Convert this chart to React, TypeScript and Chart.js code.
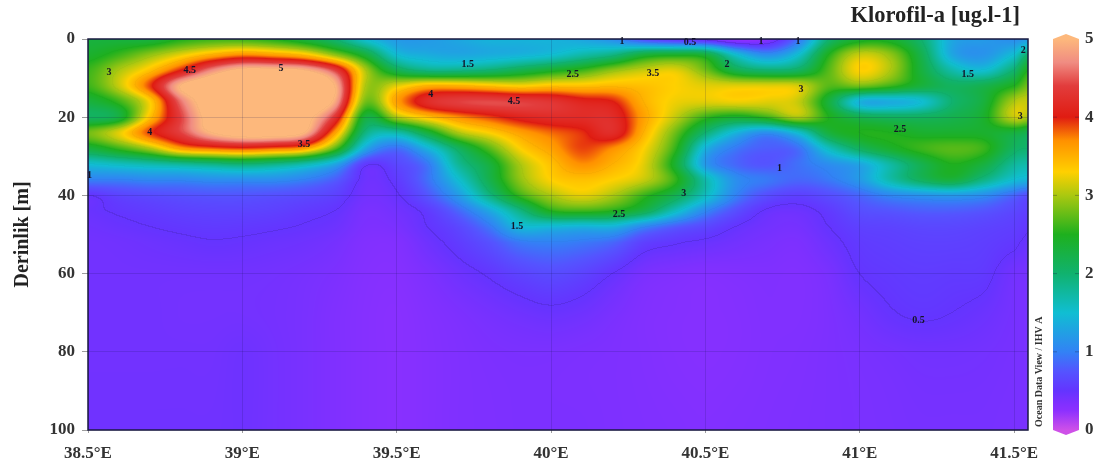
import React, { useEffect, useRef } from "react";
import { Chart, registerables } from "chart.js";

Chart.register(...registerables);

const SERIF = '"Liberation Serif", serif';
const longitudes = [38.5,38.6,38.7,38.8,38.9,39,39.1,39.2,39.3,39.4,39.5,39.6,39.7,39.8,39.9,40,40.1,40.2,40.3,40.4,40.5,40.6,40.7,40.8,40.9,41,41.1,41.2,41.3,41.4,41.5,41.545];
const depths = [0,4,8,12,16,20,24,28,32,36,40,44,48,52,60,70,80,100];

const d0 = [2.3,2.3,2.3,2.5,2.6,2.6,2.5,2.3,2.0,1.5,1.2,1.2,1.3,1.4,1.4,1.4,1.3,1.1,0.7,0.5,0.4,0.2,0.3,0.9,2.0,2.4,2.4,2.0,1.3,1.2,1.1,1.2];
const d4 = [2.4,2.6,2.9,3.2,3.5,3.7,3.6,3.4,2.9,2.3,1.5,1.35,1.3,1.35,1.4,1.5,1.7,1.9,2.3,2.4,2.3,1.5,1.1,1.5,2.5,3.1,2.9,2.2,1.3,1.15,1.5,2.0];
const d8 = [2.6,3.0,3.4,4.0,4.7,5.1,5.1,5.0,4.4,3.0,2.2,1.9,1.9,2.0,2.2,2.4,2.6,2.9,3.1,3.2,2.8,2.2,2.0,2.1,2.7,3.3,3.0,2.3,1.7,1.5,2.0,2.5];
const d12 = [2.6,3.1,3.9,5.0,5.4,5.6,5.6,5.5,5.0,3.0,3.2,3.5,3.5,3.4,3.3,3.4,3.4,3.45,3.4,3.3,3.2,3.2,3.2,3.15,2.7,2.8,2.6,2.3,2.1,2.2,2.5,2.8];
const d16 = [2.3,2.6,3.3,4.6,5.3,5.6,5.6,5.4,4.9,2.8,3.6,4.2,4.4,4.45,4.4,4.3,4.1,4.0,3.5,3.25,3.2,3.25,3.2,3.1,2.3,1.4,1.35,1.5,2.0,2.3,3.0,3.1];
const d20 = [2.1,2.3,3.4,4.4,5.2,5.5,5.5,5.2,4.3,2.3,3.0,3.4,3.7,3.9,4.1,4.2,4.2,4.2,3.6,3.1,2.6,2.4,2.6,3.0,2.5,2.2,2.1,2.1,2.2,2.4,3.1,3.0];
const d24 = [2.8,3.2,3.9,4.4,5.0,5.3,5.3,5.0,3.6,1.9,1.7,2.3,3.0,3.3,3.6,3.8,3.95,4.2,3.5,2.8,2.0,1.4,1.1,1.5,2.3,2.5,2.5,2.4,2.4,2.4,2.3,2.2];
const d28 = [2.3,2.6,3.0,3.6,3.8,3.9,3.8,3.6,2.7,1.3,0.9,1.4,2.1,2.7,3.3,3.6,3.9,3.7,3.3,2.6,1.4,0.95,0.8,0.9,1.6,2.1,2.4,2.6,2.7,2.6,2.1,2.0];
const d32 = [1.5,1.6,1.7,1.8,1.9,2.0,1.9,1.7,1.3,0.55,0.65,0.95,1.8,2.3,3.0,3.4,3.7,3.5,3.2,2.4,1.2,0.85,0.75,0.9,1.1,1.3,1.75,2.2,2.5,2.3,1.8,1.7];
const d36 = [1.0,1.0,1.05,1.05,1.1,1.1,1.1,1.0,0.8,0.45,0.55,0.9,1.5,2.2,2.9,3.3,3.4,3.3,3.1,2.6,1.7,1.1,0.95,0.85,0.95,1.2,1.7,2.1,2.3,1.9,1.5,1.4];
const d40 = [0.5,0.62,0.68,0.72,0.75,0.75,0.72,0.68,0.6,0.42,0.48,0.75,1.2,1.9,2.6,3.0,3.2,3.0,2.6,2.2,1.6,1.0,0.7,0.6,0.7,0.85,1.05,1.15,1.2,1.1,0.85,0.7];
const d44 = [0.47,0.52,0.56,0.6,0.62,0.62,0.6,0.55,0.5,0.38,0.42,0.55,0.85,1.3,1.9,2.5,2.6,2.5,2.2,1.6,1.05,0.7,0.48,0.45,0.55,0.7,0.75,0.8,0.8,0.75,0.65,0.58];
const d48 = [0.44,0.47,0.5,0.53,0.55,0.54,0.52,0.49,0.45,0.36,0.38,0.5,0.65,0.95,1.45,1.45,1.4,1.4,1.05,0.8,0.65,0.5,0.42,0.4,0.5,0.6,0.62,0.65,0.65,0.62,0.58,0.52];
const d52 = [0.42,0.43,0.45,0.47,0.49,0.48,0.46,0.44,0.4,0.33,0.33,0.44,0.56,0.72,0.95,1.0,0.95,0.85,0.6,0.52,0.47,0.42,0.38,0.36,0.45,0.55,0.58,0.6,0.6,0.58,0.53,0.47];
const d60 = [0.42,0.42,0.42,0.42,0.42,0.42,0.41,0.39,0.36,0.31,0.3,0.36,0.44,0.52,0.62,0.68,0.62,0.5,0.38,0.34,0.32,0.33,0.34,0.33,0.38,0.5,0.54,0.56,0.55,0.54,0.42,0.4];
const d70 = [0.42,0.42,0.42,0.41,0.41,0.41,0.4,0.38,0.34,0.3,0.28,0.32,0.36,0.4,0.44,0.47,0.44,0.38,0.33,0.31,0.3,0.31,0.33,0.33,0.36,0.42,0.49,0.52,0.5,0.46,0.4,0.38];
const d80 = [0.42,0.42,0.42,0.42,0.42,0.44,0.41,0.38,0.34,0.3,0.28,0.31,0.34,0.36,0.37,0.37,0.36,0.35,0.33,0.31,0.3,0.31,0.33,0.34,0.36,0.38,0.4,0.42,0.42,0.41,0.39,0.38];
const d100 = [0.43,0.43,0.43,0.43,0.43,0.44,0.41,0.38,0.34,0.3,0.28,0.31,0.34,0.35,0.36,0.36,0.36,0.35,0.34,0.33,0.32,0.33,0.34,0.35,0.36,0.37,0.38,0.39,0.39,0.39,0.38,0.38];
const chlorophyll = [d0,d4,d8,d12,d16,d20,d24,d28,d32,d36,d40,d44,d48,d52,d60,d70,d80,d100];

const labelText = ["3","4.5","5","4","3.5","1","1.5","2.5","3.5","4","4.5","1","0.5","1","1","2","3","1.5","2","3","2.5","1","3","2.5","1.5","0.5"];
const labelLon = [38.568,38.83,39.125,38.7,39.2,38.505,39.73,40.07,40.33,39.61,39.88,40.23,40.45,40.68,40.8,40.57,40.81,41.35,41.53,41.52,41.13,40.74,40.43,40.22,39.89,41.19];
const labelDepth = [8.5,8,7.5,24,27,35,6.5,9,8.7,14.3,16,0.5,0.8,0.5,0.5,6.4,12.8,9,3,19.7,23,33,39.6,44.8,48,71.9];

const colorValues = [0,0.25,0.35,0.5,0.75,1,1.5,2,2.5,3,3.3,3.7,4,4.4,4.7,5];
const colorStops = [
  [206,80,232],[140,48,255],[126,48,255],[100,52,255],[84,84,255],[50,130,245],[16,190,210],[16,178,110],[30,176,30],
  [170,200,16],[255,208,0],[255,145,0],[224,28,18],[226,60,60],[240,140,130],[253,184,124],
];

function colorFor(v: number): number[] {
  if (v <= colorValues[0]) return colorStops[0];
  for (let i = 1; i < colorValues.length; i++) {
    if (v <= colorValues[i]) {
      const t = (v - colorValues[i - 1]) / (colorValues[i] - colorValues[i - 1]);
      const a = colorStops[i - 1], b = colorStops[i];
      return [a[0] + (b[0] - a[0]) * t, a[1] + (b[1] - a[1]) * t, a[2] + (b[2] - a[2]) * t];
    }
  }
  return colorStops[colorStops.length - 1];
}

function fracIndex(list: number[], v: number): number {
  for (let i = 1; i < list.length; i++) {
    if (v <= list[i]) return i - 1 + (v - list[i - 1]) / (list[i] - list[i - 1]);
  }
  return list.length - 1;
}
function cubic(p0: number, p1: number, p2: number, p3: number, t: number) {
  return p1 + 0.5 * t * (p2 - p0 + t * (2 * p0 - 5 * p1 + 4 * p2 - p3 + t * (3 * (p1 - p2) + p3 - p0)));
}
function sample(fx: number, fy: number): number {
  const nx = longitudes.length, ny = depths.length;
  const ix = Math.min(Math.floor(fx), nx - 2), iy = Math.min(Math.floor(fy), ny - 2);
  const tx = fx - ix, ty = fy - iy;
  const col = [0, 0, 0, 0];
  for (let j = -1; j <= 2; j++) {
    const row = chlorophyll[Math.max(0, Math.min(ny - 1, iy + j))];
    col[j + 1] = cubic(
      row[Math.max(0, ix - 1)], row[ix], row[ix + 1], row[Math.min(nx - 1, ix + 2)], tx);
  }
  return cubic(col[0], col[1], col[2], col[3], ty);
}

const sectionPlugin = {
  id: "section",
  beforeDatasetsDraw(chart: any) {
    const { ctx, chartArea: a, scales } = chart;
    const w = Math.round(a.right - a.left), h = Math.round(a.bottom - a.top);
    const off = document.createElement("canvas");
    off.width = w; off.height = h;
    const octx = off.getContext("2d")!;
    const img = octx.createImageData(w, h);
    const field = new Float32Array(w * h);
    for (let y = 0; y < h; y++) {
      const fy = fracIndex(depths, scales.y.getValueForPixel(a.top + y + 0.5));
      for (let x = 0; x < w; x++) {
        const fx = fracIndex(longitudes, scales.x.getValueForPixel(a.left + x + 0.5));
        field[y * w + x] = sample(fx, fy);
      }
    }
    const band = (v: number) => Math.floor(Math.min(v, 5.01) / 0.5);
    for (let y = 0; y < h; y++) {
      for (let x = 0; x < w; x++) {
        const v = field[y * w + x];
        const c = colorFor(v);
        const right = x + 1 < w ? field[y * w + x + 1] : v;
        const below = y + 1 < h ? field[(y + 1) * w + x] : v;
        const onContour = band(v) !== band(right) || band(v) !== band(below);
        const m = !onContour ? 1 : v < 0.75 ? 0.9 : 0.98;
        const k = (y * w + x) * 4;
        img.data[k] = c[0] * m; img.data[k + 1] = c[1] * m; img.data[k + 2] = c[2] * m; img.data[k + 3] = 255;
      }
    }
    octx.putImageData(img, 0, 0);
    ctx.drawImage(off, a.left, a.top);

    // colour bar, on its own value scale
    const c = scales.c;
    const left = 1054, right = 1078, top = c.getPixelForValue(5), bottom = c.getPixelForValue(0);
    const grad = ctx.createLinearGradient(0, bottom, 0, top);
    colorValues.forEach((v, i) => {
      const s = colorStops[i];
      grad.addColorStop(v / 5, `rgb(${s[0]},${s[1]},${s[2]})`);
    });
    ctx.save();
    ctx.fillStyle = grad;
    ctx.fillRect(left - 1, top, right - left + 2, bottom - top);
    ctx.fillStyle = `rgb(${colorStops[colorStops.length - 1].join(",")})`;
    ctx.beginPath();
    ctx.moveTo(left - 1, top); ctx.lineTo(1066, top - 5); ctx.lineTo(right + 1, top); ctx.closePath(); ctx.fill();
    ctx.fillStyle = `rgb(${colorStops[0].join(",")})`;
    ctx.beginPath();
    ctx.moveTo(left - 1, bottom); ctx.lineTo(1066, bottom + 5); ctx.lineTo(right + 1, bottom); ctx.closePath(); ctx.fill();
    ctx.strokeStyle = "rgba(20,20,60,0.3)";
    ctx.lineWidth = 1;
    [1, 2, 3, 4].forEach((v) => {
      const y = c.getPixelForValue(v);
      ctx.beginPath();
      ctx.moveTo(left - 1, y); ctx.lineTo(left + 3, y);
      ctx.moveTo(right - 3, y); ctx.lineTo(right + 1, y);
      ctx.stroke();
    });
    ctx.restore();
  },
  afterDraw(chart: any) {
    const { ctx, chartArea: a, scales } = chart;
    ctx.save();
    ctx.strokeStyle = "#1a1a40";
    ctx.lineWidth = 1.5;
    ctx.strokeRect(a.left, a.top, a.right - a.left, a.bottom - a.top);

    ctx.fillStyle = "#141428";
    ctx.textAlign = "center";
    ctx.textBaseline = "middle";
    ctx.font = `bold 10px ${SERIF}`;
    labelText.forEach((t, i) => {
      ctx.fillText(t, scales.x.getPixelForValue(labelLon[i]), scales.y.getPixelForValue(labelDepth[i]));
    });

    ctx.fillStyle = "#222";
    ctx.font = `bold 22.5px ${SERIF}`;
    ctx.textAlign = "right";
    ctx.textBaseline = "alphabetic";
    ctx.fillText("Klorofil-a [ug.l-1]", 1020, 22);

    ctx.translate(1042, 427);
    ctx.rotate(-Math.PI / 2);
    ctx.font = `bold 10px ${SERIF}`;
    ctx.textAlign = "left";
    ctx.fillStyle = "#333";
    ctx.fillText("Ocean Data View / IHV A", 0, 0);
    ctx.restore();
  },
};

const tickFont = { family: SERIF, size: 17, weight: "bold" as const };
const noPad = (s: any) => { s.paddingTop = 0; s.paddingBottom = 0; s.paddingLeft = 0; s.paddingRight = 0; };

export default function App() {
  const ref = useRef<HTMLCanvasElement | null>(null);
  useEffect(() => {
    const chart = new Chart(ref.current!, {
      type: "scatter",
      data: {
        datasets: [{
          label: "Klorofil-a contour labels",
          data: labelText.map((_, i) => ({ x: labelLon[i], y: labelDepth[i] })),
          pointRadius: 0,
          yAxisID: "y",
        }],
      },
      options: {
        animation: false,
        responsive: false,
        layout: { padding: { top: 39, left: 0, right: 0, bottom: 0 } },
        plugins: { legend: { display: false }, tooltip: { enabled: false }, title: { display: false } },
        scales: {
          x: {
            type: "linear",
            min: 38.5, max: 41.545,
            afterFit: (s: any) => { s.height = 39; noPad(s); },
            grid: { z: 1, color: "rgba(20,20,80,0.16)", tickColor: "rgba(60,60,60,0.5)", tickLength: 3 },
            border: { display: false },
            ticks: {
              stepSize: 0.5, includeBounds: false, maxRotation: 0, autoSkip: false, padding: 10,
              color: "#333", font: tickFont,
              callback: (v: any) => `${v}°E`,
            },
          },
          y: {
            type: "linear",
            reverse: true,
            min: 0, max: 100,
            afterFit: (s: any) => { s.width = 88; noPad(s); },
            grid: { z: 1, color: "rgba(20,20,80,0.16)", tickColor: "rgba(60,60,60,0.5)", tickLength: 6 },
            border: { display: false },
            title: { display: true, text: "Derinlik [m]", color: "#222", padding: { top: 11, bottom: 0 }, font: { family: SERIF, size: 20, weight: "bold" } },
            ticks: { stepSize: 20, padding: 7, color: "#333", font: tickFont },
          },
          c: {
            type: "linear",
            position: "right",
            min: 0, max: 5,
            afterFit: (s: any) => { s.width = 78; noPad(s); },
            grid: { drawOnChartArea: false, drawTicks: false },
            border: { display: false },
            ticks: { stepSize: 1, padding: 57, color: "#333", font: tickFont },
          },
        },
      },
      plugins: [sectionPlugin],
    } as any);
    return () => chart.destroy();
  }, []);
  return (
    <div style={{ position: "fixed", left: 0, top: 0, width: 1106, height: 469, background: "#fff" }}>
      <canvas ref={ref} width={1106} height={469} style={{ display: "block", filter: "blur(0.7px)" }} />
    </div>
  );
}
